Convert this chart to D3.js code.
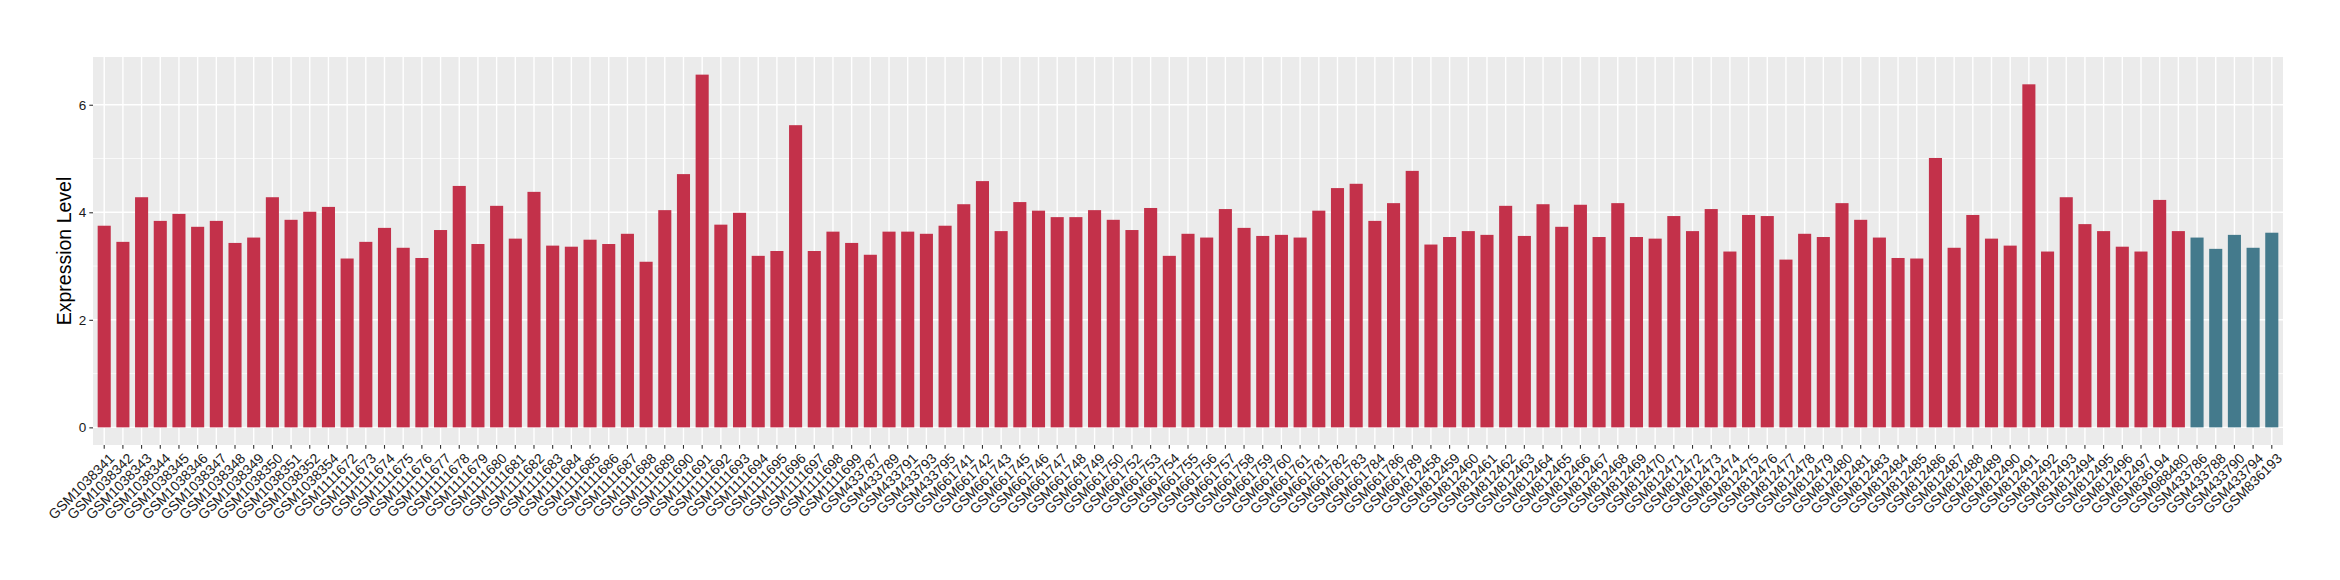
<!DOCTYPE html>
<html>
<head>
<meta charset="utf-8">
<script src="https://cdn.jsdelivr.net/npm/d3@7"></script>
<style>
  html, body { margin: 0; padding: 0; background: #ffffff; }
  svg { display: block; }
  text { font-family: "Liberation Sans", Arial, Helvetica, sans-serif; }
</style>
</head>
<body>
<svg id="chart" width="2340" height="580"></svg>
<script>
// ---------------- data ----------------
const samples = [
  "GSM1038341","GSM1038342","GSM1038343","GSM1038344","GSM1038345","GSM1038346","GSM1038347",
  "GSM1038348","GSM1038349","GSM1038350","GSM1038351","GSM1038352","GSM1038354",
  "GSM1111672","GSM1111673","GSM1111674","GSM1111675","GSM1111676","GSM1111677","GSM1111678",
  "GSM1111679","GSM1111680","GSM1111681","GSM1111682","GSM1111683","GSM1111684","GSM1111685",
  "GSM1111686","GSM1111687","GSM1111688","GSM1111689","GSM1111690","GSM1111691","GSM1111692",
  "GSM1111693","GSM1111694","GSM1111695","GSM1111696","GSM1111697","GSM1111698","GSM1111699",
  "GSM433787","GSM433789","GSM433791","GSM433793","GSM433795",
  "GSM661741","GSM661742","GSM661743","GSM661745","GSM661746","GSM661747","GSM661748",
  "GSM661749","GSM661750","GSM661752","GSM661753","GSM661754","GSM661755","GSM661756",
  "GSM661757","GSM661758","GSM661759","GSM661760","GSM661761","GSM661781","GSM661782",
  "GSM661783","GSM661784","GSM661786","GSM661789",
  "GSM812458","GSM812459","GSM812460","GSM812461","GSM812462","GSM812463","GSM812464",
  "GSM812465","GSM812466","GSM812467","GSM812468","GSM812469","GSM812470","GSM812471",
  "GSM812472","GSM812473","GSM812474","GSM812475","GSM812476","GSM812477","GSM812478",
  "GSM812479","GSM812480","GSM812481","GSM812483","GSM812484","GSM812485","GSM812486",
  "GSM812487","GSM812488","GSM812489","GSM812490","GSM812491","GSM812492","GSM812493",
  "GSM812494","GSM812495","GSM812496","GSM812497","GSM836194","GSM988480",
  "GSM433786","GSM433788","GSM433790","GSM433794","GSM836193"
];

const expression = [
  3.75, 3.45, 4.28, 3.84, 3.97, 3.73, 3.84, 3.43, 3.53, 4.28, 3.86, 4.01, 4.10,
  3.14, 3.45, 3.71, 3.34, 3.15, 3.67, 4.49, 3.41, 4.12, 3.51, 4.38, 3.38, 3.36, 3.49,
  3.41, 3.60, 3.08, 4.04, 4.71, 6.56, 3.77, 3.99, 3.19, 3.28, 5.62, 3.28, 3.64, 3.43,
  3.21, 3.64, 3.64, 3.60, 3.75,
  4.15, 4.58, 3.65, 4.19, 4.03, 3.91, 3.91, 4.04, 3.86, 3.67, 4.08, 3.19, 3.60, 3.53,
  4.06, 3.71, 3.56, 3.58, 3.53, 4.03, 4.45, 4.53, 3.84, 4.17, 4.77,
  3.40, 3.54, 3.65, 3.58, 4.12, 3.56, 4.15, 3.73, 4.14, 3.54, 4.17, 3.54, 3.51, 3.93,
  3.65, 4.06, 3.27, 3.95, 3.93, 3.12, 3.60, 3.54, 4.17, 3.86, 3.53, 3.15, 3.14, 5.01,
  3.34, 3.95, 3.51, 3.38, 6.38, 3.27, 4.28, 3.78, 3.65, 3.36, 3.27, 4.23, 3.65,
  3.53, 3.32, 3.58, 3.34, 3.62
];

// samples drawn in the second colour
const blueSamples = ["GSM433786","GSM433788","GSM433790","GSM433794","GSM836193"];

const yTicks = [0, 2, 4, 6];
const yMinorTicks = [1, 3, 5];
const yTitle = "Expression Level";

const colorRed = "#C3314A";
const colorBlue = "#447A8C";

// ---------------- layout ----------------
const panel = { left: 93, right: 2283, top: 57, bottom: 445 };

const svg = d3.select("#chart");
svg.append("rect").attr("width", 2340).attr("height", 580).attr("fill", "#ffffff");

const data = samples.map((s, i) => ({ sample: s, value: expression[i] }));

const x = d3.scaleBand()
  .domain(samples)
  .range([panel.left, panel.right])
  .paddingInner(0.3)
  .paddingOuter(0.25);

const maxV = d3.max(expression);
const y = d3.scaleLinear()
  .domain([-0.05 * maxV, maxV * 1.05])
  .range([panel.bottom, panel.top]);

// panel background
svg.append("rect")
  .attr("x", panel.left).attr("y", panel.top)
  .attr("width", panel.right - panel.left)
  .attr("height", panel.bottom - panel.top)
  .attr("fill", "#EBEBEB");

const grid = svg.append("g");
grid.selectAll("line.minor").data(yMinorTicks).join("line")
  .attr("class", "minor")
  .attr("x1", panel.left).attr("x2", panel.right)
  .attr("y1", d => y(d)).attr("y2", d => y(d))
  .attr("stroke", "#ffffff").attr("stroke-width", 0.7);
grid.selectAll("line.major").data(yTicks).join("line")
  .attr("class", "major")
  .attr("x1", panel.left).attr("x2", panel.right)
  .attr("y1", d => y(d)).attr("y2", d => y(d))
  .attr("stroke", "#ffffff").attr("stroke-width", 1.4);
grid.selectAll("line.vx").data(samples).join("line")
  .attr("class", "vx")
  .attr("x1", d => x(d) + x.bandwidth() / 2).attr("x2", d => x(d) + x.bandwidth() / 2)
  .attr("y1", panel.top).attr("y2", panel.bottom)
  .attr("stroke", "#ffffff").attr("stroke-width", 1.4);

// bars
svg.append("g").selectAll("rect").data(data).join("rect")
  .attr("x", d => x(d.sample))
  .attr("width", x.bandwidth())
  .attr("y", d => y(d.value))
  .attr("height", d => y(0) - y(d.value))
  .attr("fill", d => blueSamples.includes(d.sample) ? colorBlue : colorRed);

// y axis
const yAxis = svg.append("g")
  .attr("transform", `translate(${panel.left},0)`)
  .call(d3.axisLeft(y).tickValues(yTicks).tickSize(3.7).tickPadding(3).tickFormat(d3.format("d")));
yAxis.select(".domain").remove();
yAxis.selectAll(".tick line").attr("stroke", "#333333").attr("stroke-width", 1.1);
yAxis.selectAll(".tick text")
  .attr("fill", "#1a1a1a")
  .style("font-size", "13.5px")
  .style("font-family", "Liberation Sans, Arial, sans-serif");

// x axis
const xAxis = svg.append("g")
  .attr("transform", `translate(0,${panel.bottom})`)
  .call(d3.axisBottom(x).tickSize(3.7).tickPadding(2));
xAxis.select(".domain").remove();
xAxis.selectAll(".tick line").attr("stroke", "#333333").attr("stroke-width", 1.1);
xAxis.selectAll(".tick text")
  .attr("fill", "#1a1a1a")
  .style("font-size", "14px")
  .style("font-family", "Liberation Sans, Arial, sans-serif")
  .attr("text-anchor", "end")
  .attr("dy", "0.72em")
  .attr("transform", "translate(0,3) rotate(-45)");

// y title
svg.append("text")
  .attr("transform", `translate(${71},${(panel.top + panel.bottom) / 2}) rotate(-90)`)
  .attr("text-anchor", "middle")
  .attr("fill", "#000000")
  .style("font-size", "19.5px")
  .text(yTitle);
</script>
</body>
</html>
